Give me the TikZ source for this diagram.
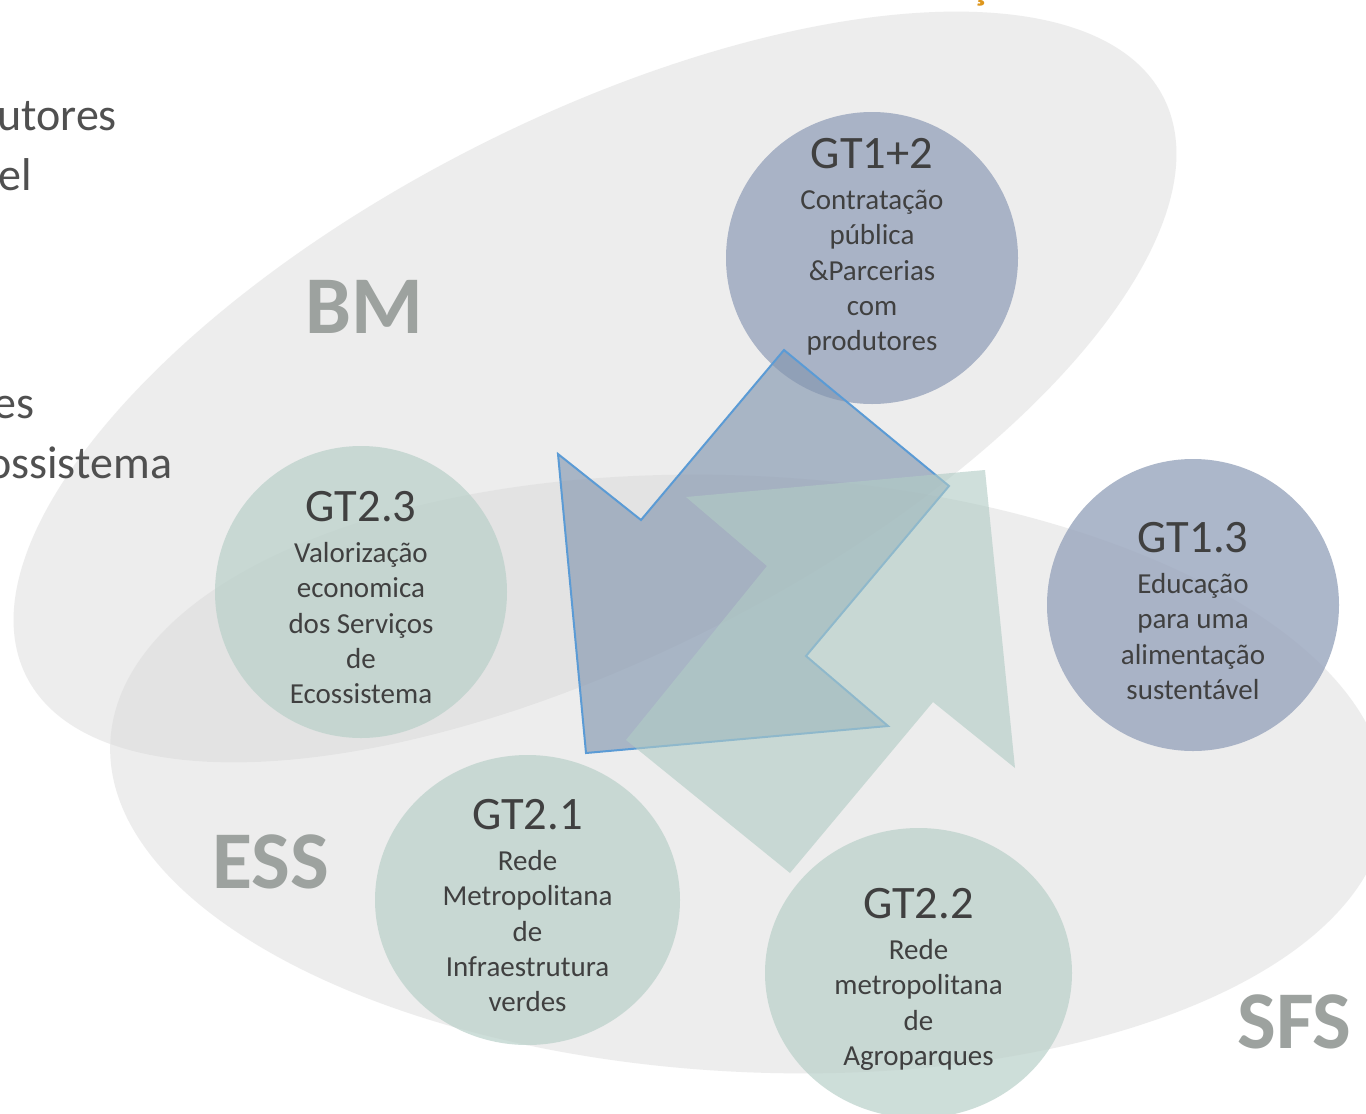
\documentclass[tikz,border=0pt]{standalone}
\usepackage{fontspec}
\setmainfont{Carlito}
\usetikzlibrary{shapes.geometric}
\definecolor{txt}{RGB}{64,64,64}
\definecolor{sidegrey}{RGB}{80,80,80}
\definecolor{lbl}{RGB}{157,162,159}
\definecolor{ellgrey}{RGB}{217,217,217}
\definecolor{gcirc}{RGB}{185,208,201}
\definecolor{bcirc}{RGB}{152,165,189}
\definecolor{barrow}{RGB}{132,151,176}
\definecolor{garrow}{RGB}{177,204,197}
\definecolor{bline}{RGB}{91,155,213}
\definecolor{orng}{RGB}{222,150,28}
\begin{document}
\begin{tikzpicture}[x=1pt,y=-1pt,
  zone/.style={fill=ellgrey, fill opacity=0.45},
  gtgreen/.style={ellipse, inner sep=0, fill=gcirc, fill opacity=0.7},
  gtblue/.style={ellipse, inner sep=0, fill=bcirc, fill opacity=0.8},
  gttitle/.style={anchor=base, inner sep=0, text=txt, font=\fontsize{46.5}{56}\selectfont},
  gtbody/.style={anchor=base, inner sep=0, text=txt, font=\fontsize{29}{35}\selectfont},
  biglabel/.style={anchor=base, inner sep=0, text=lbl, font=\bfseries\fontsize{82}{98}\selectfont},
  sidetext/.style={anchor=base west, inner sep=0, text=sidegrey, font=\fontsize{46}{55}\selectfont},
  bluearrow/.style={fill=barrow, fill opacity=0.65, draw=bline, line width=2pt, line join=miter},
  greenarrow/.style={fill=garrow, fill opacity=0.61}]
\useasboundingbox (0,0) rectangle (1366,1114);
\fill[white] (0,0) rectangle (1366,1114);

% zones
\begin{scope}[shift={(595,387)}, rotate=27]
  \path[zone] (0,0) ellipse [x radius=638pt, y radius=268pt];
\end{scope}
\begin{scope}[shift={(748.5,774)}, rotate=-2.9]
  \path[zone] (0,0) ellipse [x radius=639pt, y radius=298pt];
\end{scope}

% title fragment at the top edge
\node[anchor=base, inner sep=0, text=orng, font=\bfseries\fontsize{40}{48}\selectfont] (titlefrag) at (980,-1) {ç};

% side text fragments
\node[sidetext] (s1) at (-3,130) {utores};
\node[sidetext] (s2) at (-2,190) {el};
\node[sidetext] (s3) at (-7,418) {es};
\node[sidetext] (s4) at (-13,478) {ossistema};

% big labels
\node[biglabel] (bm) at (364.5,333) {BM};
\node[biglabel] (ess) at (270.5,888) {ESS};
\node[biglabel] (sfs) at (1294.5,1048) {SFS};

% circles
\node[gtblue, minimum width=292pt, minimum height=292pt] (c12) at (872,258) {};
\node[gtgreen, minimum width=292pt, minimum height=292pt] (c23) at (361,592) {};
\node[gtblue, minimum width=292pt, minimum height=292pt] (c13) at (1193,605) {};
\node[gtgreen, minimum width=305pt, minimum height=290pt] (c21) at (527.5,900) {};
\node[gtgreen, minimum width=307pt, minimum height=290pt] (c22) at (918.5,973) {};

% arrows
\path[bluearrow] (784,350) -- (949,486) -- (806,656) -- (888,726) -- (586,753) -- (558,454) -- (641,520) -- cycle;
\path[greenarrow] (985,470) -- (1015,768) -- (933,702) -- (790,873) -- (626,740) -- (767,566) -- (686,497) -- cycle;

% circle texts
\node[gttitle] (t12) at (872,168) {GT1+2};
\foreach \s [count=\i] in {Contratação,pública,\&Parcerias,com,produtores}
  \node[gtbody] (b12-\i) at (872,{168+41.5+35.3*(\i-1)}) {\s};

\node[gttitle] (t23) at (361,521) {GT2.3};
\foreach \s [count=\i] in {Valorização,economica,dos Serviços,de,Ecossistema}
  \node[gtbody] (b23-\i) at (361,{521+41.5+35.3*(\i-1)}) {\s};

\node[gttitle] (t13) at (1193,552) {GT1.3};
\foreach \s [count=\i] in {Educação,para uma,alimentação,sustentável}
  \node[gtbody] (b13-\i) at (1193,{552+41.5+35.3*(\i-1)}) {\s};

\node[gttitle] (t21) at (527.5,829) {GT2.1};
\foreach \s [count=\i] in {Rede,Metropolitana,de,Infraestrutura,verdes}
  \node[gtbody] (b21-\i) at (527.5,{829+41.5+35.3*(\i-1)}) {\s};

\node[gttitle] (t22) at (918.5,918) {GT2.2};
\foreach \s [count=\i] in {Rede,metropolitana,de,Agroparques}
  \node[gtbody] (b22-\i) at (918.5,{918+41.5+35.3*(\i-1)}) {\s};
\end{tikzpicture}
\end{document}
